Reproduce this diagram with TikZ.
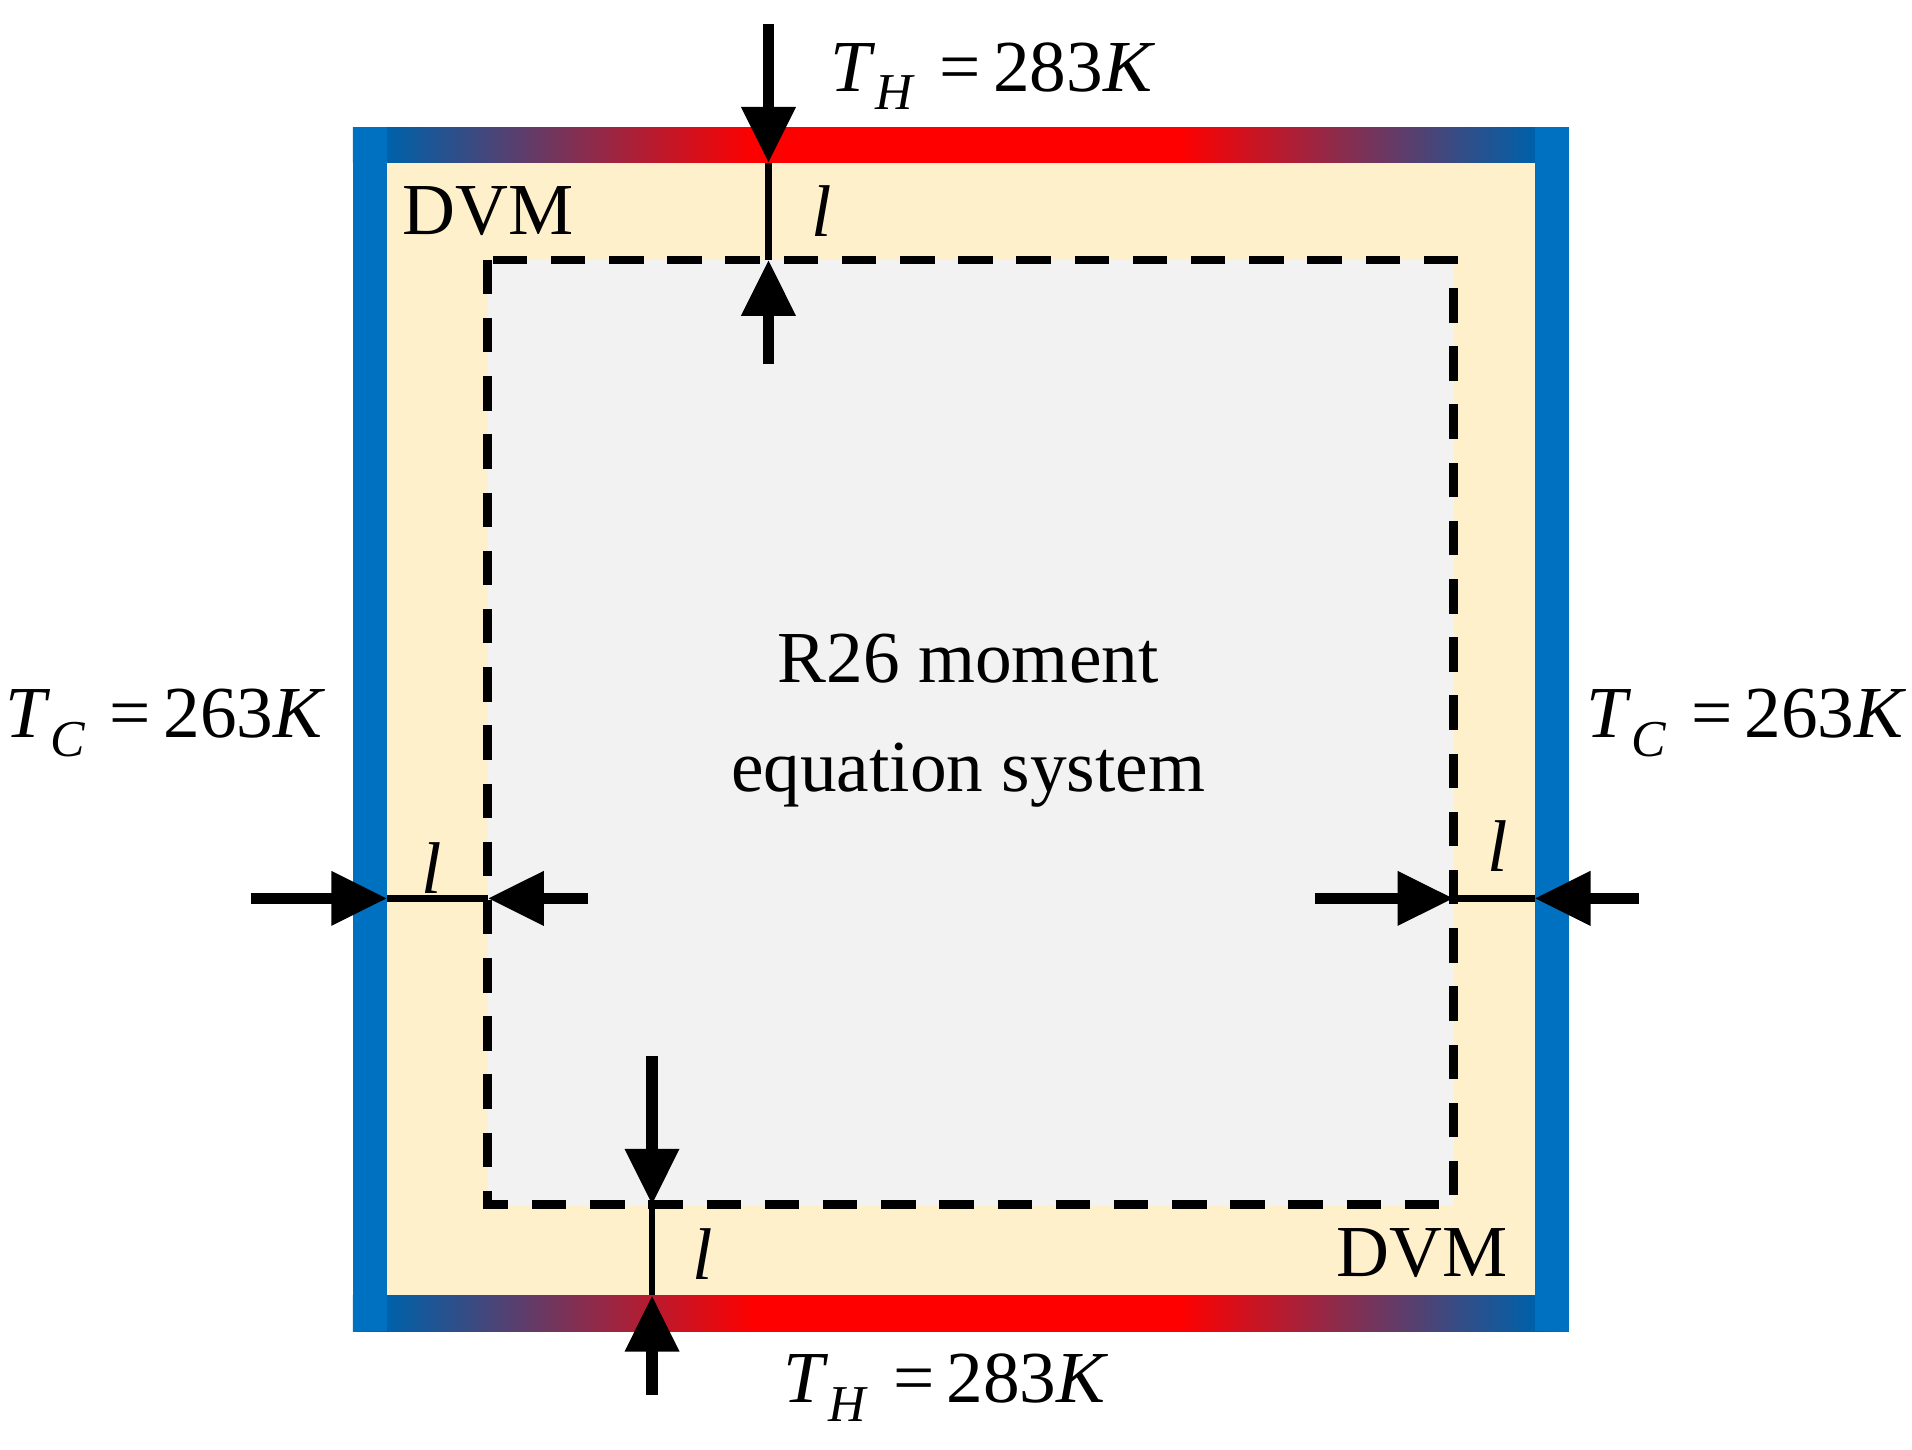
\documentclass[tikz,border=0pt]{standalone}
\usepackage{fontspec}
\setmainfont{Liberation Serif}
\definecolor{bblue}{HTML}{0070C0}
\definecolor{dblue}{HTML}{0060A8}
\definecolor{cream}{HTML}{FFF0CC}
\definecolor{lgray}{HTML}{F2F2F2}
\pgfdeclarehorizontalshading{hot}{100bp}{color(0bp)=(bblue); color(25bp)=(bblue); color(26.5bp)=(dblue); color(41.5bp)=(red); color(59bp)=(red); color(73.5bp)=(dblue); color(75bp)=(bblue); color(100bp)=(bblue)}
\usetikzlibrary{arrows.meta}
\tikzset{
 lbl/.style={font=\fontsize{17}{21}\selectfont, inner sep=0},
 arr/.style={line width=2.6pt, -{Triangle[length=13pt,width=12pt]}},
 dim/.style={line width=1.6pt}
}
\newcommand{\Tsub}[2]{\textit{T}\raisebox{-0.55ex}{\fontsize{12}{14}\selectfont\textit{#1}}\,\,=\,#2\textit{K}}
\begin{document}
\begin{tikzpicture}[x=0.01cm,y=-0.01cm]
\useasboundingbox (0,0) rectangle (1560,1183);
\fill[cream] (316,133) rectangle (1252,1057);
\shade[shading=hot] (288,104) rectangle (1280,133);
\shade[shading=hot] (288,1057) rectangle (1280,1086);
\fill[bblue] (288,104) rectangle (316,1086);
\fill[bblue] (1252,104) rectangle (1280,1086);
\draw[fill=lgray, line width=2pt, dash pattern=on 8pt off 5.5pt] (398,212) rectangle (1186,983);
% coordinates
\coordinate (t0) at (627,20); \coordinate (t1) at (627,133); \coordinate (t2) at (627,212); \coordinate (t3) at (627,297);
\coordinate (b0) at (532,862); \coordinate (b1) at (532,983); \coordinate (b2) at (532,1057); \coordinate (b3) at (532,1138);
\coordinate (l0) at (205,733); \coordinate (l1) at (316,733); \coordinate (l2) at (398,733); \coordinate (l3) at (480,733);
\coordinate (r0) at (1073,733); \coordinate (r1) at (1186,733); \coordinate (r2) at (1252,733); \coordinate (r3) at (1337,733);
\draw[arr] (t0) -- (t1); \draw[dim] (t1) -- (t2); \draw[arr] (t3) -- (t2);
\draw[arr] (b0) -- (b1); \draw[dim] (b1) -- (b2); \draw[arr] (b3) -- (b2);
\draw[arr] (l0) -- (l1); \draw[dim] (l1) -- (l2); \draw[arr] (l3) -- (l2);
\draw[arr] (r0) -- (r1); \draw[dim] (r1) -- (r2); \draw[arr] (r3) -- (r2);
% labels
\node[lbl] (th1) at (810,62) {\Tsub{H}{283}};
\node[lbl] (th2) at (772,1132) {\Tsub{H}{283}};
\node[lbl] (tc1) at (135,590) {\Tsub{C}{263}};
\node[lbl] (tc2) at (1425,590) {\Tsub{C}{263}};
\node[lbl] (la) at (670,172) {\textit{l}};
\node[lbl] (lb) at (352,708) {\textit{l}};
\node[lbl] (lc) at (1222,690) {\textit{l}};
\node[lbl] (ld) at (573,1023) {\textit{l}};
\node[lbl] (d1) at (398,172) {DVM};
\node[lbl] (d2) at (1160,1022) {DVM};
\node[lbl, align=center] (c) at (790,588) {R26 moment\\[0.25em]equation system};
\end{tikzpicture}
\end{document}
